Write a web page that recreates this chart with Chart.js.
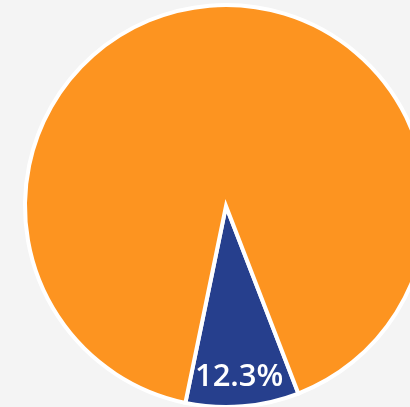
<!DOCTYPE html>
<html>
<head>
<meta charset="utf-8">
<script src="https://cdn.jsdelivr.net/npm/chart.js@4.4.0/dist/chart.umd.min.js"></script>
<style>
  html, body { margin: 0; padding: 0; width: 410px; height: 407px; overflow: hidden; background: #f4f4f4; }
  #wrap { position: absolute; left: 0; top: 0; width: 452px; height: 412px; }
</style>
</head>
<body>
<div id="wrap"><canvas id="graficaPie"></canvas></div>
<script>
const categorias = ['Azul', 'Naranja'];
const valores = [9.1, 90.9];
const etiquetas = ['12.3%', ''];
const colores = ['#263f8d', '#fd9420'];

// dibuja el porcentaje dentro de la rebanada
const etiquetaPlugin = {
    id: 'etiquetaPie',
    afterDatasetsDraw(chart) {
        const ctx = chart.ctx;
        const meta = chart.getDatasetMeta(0);
        meta.data.forEach(function (arc, i) {
            if (!etiquetas[i]) return;
            const p = arc.getProps(['x', 'y', 'startAngle', 'endAngle', 'outerRadius'], true);
            const mid = (p.startAngle + p.endAngle) / 2;
            const r = p.outerRadius * 0.855;
            ctx.save();
            ctx.fillStyle = '#ffffff';
            ctx.font = '600 31px "Open Sans", sans-serif';
            ctx.textAlign = 'center';
            ctx.textBaseline = 'middle';
            ctx.fillText(etiquetas[i], p.x + Math.cos(mid) * r - 1, p.y + Math.sin(mid) * r);
            ctx.restore();
        });
    }
};

new Chart(document.getElementById('graficaPie').getContext('2d'), {
    type: 'pie',
    data: {
        labels: categorias,
        datasets: [{
            data: valores,
            backgroundColor: colores,
            borderColor: '#ffffff',
            borderWidth: 4,
            borderJoinStyle: 'miter'
        }]
    },
    options: {
        responsive: true,
        maintainAspectRatio: false,
        animation: false,
        rotation: 158.9,
        radius: 201,
        plugins: {
            legend: { display: false },
            tooltip: { enabled: false }
        }
    },
    plugins: [etiquetaPlugin]
});
</script>
</body>
</html>
